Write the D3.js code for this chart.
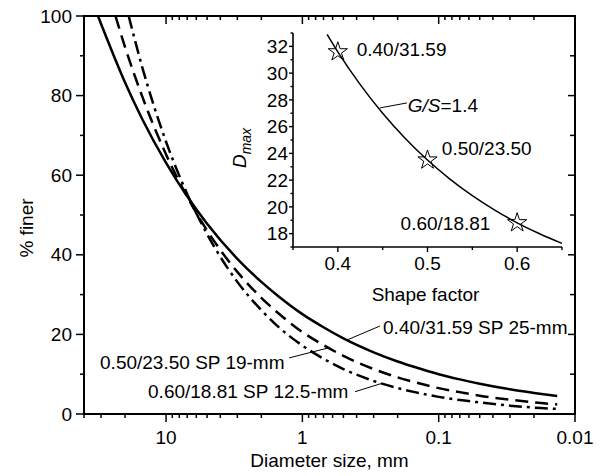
<!DOCTYPE html>
<html>
<head>
<meta charset="utf-8">
<script src="https://cdn.jsdelivr.net/npm/d3@7/dist/d3.min.js"></script>
<style>
  html, body { margin: 0; padding: 0; background: #fff; }
  svg { display: block; }
  text { font-family: "Liberation Sans", Arial, sans-serif; fill: #000; }
</style>
</head>
<body>
<svg id="chart" width="602" height="476"></svg>
<script>
// ---------------- DATA ----------------
// Main chart: diameter (mm) vs % finer
const diamSP25 = [31.59, 20, 15, 10, 7, 5, 3, 2, 1.5, 1, 0.7, 0.5, 0.3, 0.2, 0.15, 0.1, 0.07, 0.05, 0.03, 0.02, 0.0135];
const finerSP25 = [100, 83.3, 74.2, 63.1, 54.7, 47.8, 39.0, 33.2, 29.6, 25.1, 21.8, 19.0, 15.5, 13.2, 11.8, 10.0, 8.7, 7.6, 6.2, 5.3, 4.5];
const diamSP19 = [23.5, 20, 15, 10, 7, 5, 3, 2, 1.5, 1, 0.7, 0.5, 0.3, 0.2, 0.15, 0.1, 0.07, 0.05, 0.03, 0.02, 0.0135];
const finerSP19 = [100, 92.2, 79.9, 65.2, 54.6, 46.1, 35.7, 29.2, 25.3, 20.6, 17.3, 14.6, 11.3, 9.2, 8.0, 6.5, 5.5, 4.6, 3.6, 2.9, 2.4];
const diamSP125 = [18.81, 15, 10, 7, 5, 3, 2, 1.5, 1, 0.7, 0.5, 0.3, 0.2, 0.15, 0.1, 0.07, 0.05, 0.03, 0.02, 0.0135];
const finerSP125 = [100, 87.3, 68.4, 55.3, 45.2, 33.2, 26.1, 21.9, 17.2, 13.9, 11.3, 8.3, 6.5, 5.5, 4.3, 3.5, 2.9, 2.1, 1.6, 1.3];

const xMajorTicks = [10, 1, 0.1, 0.01];
const xMajorLabels = ["10", "1", "0.1", "0.01"];
const yMajorTicks = [0, 20, 40, 60, 80, 100];
const yMinorTicks = [10, 30, 50, 70, 90];

// Annotations for main chart (data coordinates)
const mainLabels = ["0.40/31.59 SP 25-mm", "0.50/23.50 SP 19-mm", "0.60/18.81 SP 12.5-mm"];
const mainLabelAnchor = [[0.256, 20.1], [30.5, 11.3], [13.56, 4.0]];
const mainLeaderFrom = [[0.270, 22.1], [1.25, 14.1], [0.411, 5.6]];
const mainLeaderTo = [[0.47, 18.6], [0.646, 16.6], [0.261, 7.7]];

// Inset: shape factor vs Dmax
const shapeCurve = [0.388, 0.40, 0.425, 0.45, 0.475, 0.50, 0.525, 0.55, 0.575, 0.60, 0.625, 0.65];
const dmaxCurve = [32.9, 31.59, 29.14, 27.0, 25.13, 23.5, 22.08, 20.84, 19.76, 18.81, 17.99, 17.27];
const shapePoints = [0.40, 0.50, 0.60];
const dmaxPoints = [31.59, 23.50, 18.81];
const pointLabels = ["0.40/31.59", "0.50/23.50", "0.60/18.81"];
const pointLabelAnchor = [[0.421, 31.28], [0.516, 23.88], [0.470, 18.27]];
const insetXTicks = [0.4, 0.5, 0.6];
const insetXMinor = [0.35, 0.45, 0.55, 0.65];
const insetYTicks = [18, 20, 22, 24, 26, 28, 30, 32];
const insetYMinor = [17, 19, 21, 23, 25, 27, 29, 31, 33];
const gsLabelAnchor = [0.478, 27.1];
const gsLeaderFrom = [0.477, 27.77];
const gsLeaderTo = [0.447, 27.4];

// ---------------- LAYOUT ----------------
const svg = d3.select("#chart");
const FS = 19;
const L = 84, R = 575, T = 16, B = 414;

const x = d3.scaleLog().domain([40, 0.01]).range([L, R]);
const y = d3.scaleLinear().domain([0, 100]).range([B, T]);

svg.append("rect").attr("width", 602).attr("height", 476).attr("fill", "#fff");

// minor x ticks
const xMinor = [];
[0.01, 0.1, 1, 10].forEach(dec => {
  for (let k = 2; k <= 9; k++) {
    const v = +(dec * k).toPrecision(3);
    if (v <= 40 && v >= 0.01) xMinor.push(v);
  }
});

const axG = svg.append("g").attr("stroke", "#000").attr("stroke-width", 1.5);
// bottom ticks outward
xMajorTicks.forEach(v => axG.append("line").attr("x1", x(v)).attr("x2", x(v)).attr("y1", B).attr("y2", B + 8));
xMinor.forEach(v => axG.append("line").attr("x1", x(v)).attr("x2", x(v)).attr("y1", B).attr("y2", B + 4));
// top ticks inward
xMajorTicks.forEach(v => axG.append("line").attr("x1", x(v)).attr("x2", x(v)).attr("y1", T).attr("y2", T + 8));
xMinor.filter(v => v < 10).forEach(v => axG.append("line").attr("x1", x(v)).attr("x2", x(v)).attr("y1", T).attr("y2", T + 4));
// left ticks outward
yMajorTicks.forEach(v => axG.append("line").attr("x1", L - 8).attr("x2", L).attr("y1", y(v)).attr("y2", y(v)));
yMinorTicks.forEach(v => axG.append("line").attr("x1", L - 4).attr("x2", L).attr("y1", y(v)).attr("y2", y(v)));
// right ticks inward
yMajorTicks.forEach(v => axG.append("line").attr("x1", R - 7).attr("x2", R).attr("y1", y(v)).attr("y2", y(v)));
yMinorTicks.forEach(v => axG.append("line").attr("x1", R - 5).attr("x2", R).attr("y1", y(v)).attr("y2", y(v)));

// frame
svg.append("rect").attr("x", L).attr("y", T).attr("width", R - L).attr("height", B - T)
  .attr("fill", "none").attr("stroke", "#000").attr("stroke-width", 2);

// tick labels
xMajorTicks.forEach((v, i) => svg.append("text").attr("x", x(v)).attr("y", B + 30)
  .attr("text-anchor", "middle").attr("font-size", FS).text(xMajorLabels[i]));
yMajorTicks.forEach(v => svg.append("text").attr("x", L - 12).attr("y", y(v)).attr("dy", "0.35em")
  .attr("text-anchor", "end").attr("font-size", FS).text(v));

// axis titles
svg.append("text").attr("x", (L + R) / 2).attr("y", 467).attr("text-anchor", "middle")
  .attr("font-size", FS).text("Diameter size, mm");
svg.append("text").attr("transform", `translate(33,228) rotate(-90)`).attr("text-anchor", "middle")
  .attr("font-size", FS).text("% finer");

// curves
const line = d3.line().x(d => x(d[0])).y(d => y(d[1])).curve(d3.curveMonotoneX);
const series = [
  {d: diamSP25, p: finerSP25, dash: null},
  {d: diamSP19, p: finerSP19, dash: "13,7"},
  {d: diamSP125, p: finerSP125, dash: "13,5,3,5"}
];
series.forEach(s => {
  const pts = s.d.map((v, i) => [v, s.p[i]]);
  svg.append("path").attr("d", line(pts)).attr("fill", "none").attr("stroke", "#000")
    .attr("stroke-width", 2.5).attr("stroke-dasharray", s.dash);
});

// main annotations
mainLabels.forEach((t, i) => {
  svg.append("line").attr("x1", x(mainLeaderFrom[i][0])).attr("y1", y(mainLeaderFrom[i][1]))
    .attr("x2", x(mainLeaderTo[i][0])).attr("y2", y(mainLeaderTo[i][1]))
    .attr("stroke", "#000").attr("stroke-width", 1);
  svg.append("text").attr("x", x(mainLabelAnchor[i][0])).attr("y", y(mainLabelAnchor[i][1]))
    .attr("font-size", FS).text(t);
});

// ---------------- INSET ----------------
const IL = 293, IR = 562, IT = 33, IB = 247;
const xi = d3.scaleLinear().domain([0.35, 0.65]).range([IL, IR]);
const yi = d3.scaleLinear().domain([17, 33]).range([IB, IT]);

const ig = svg.append("g");
ig.append("line").attr("x1", IL).attr("x2", IL).attr("y1", IT).attr("y2", IB).attr("stroke", "#000").attr("stroke-width", 1.6);
ig.append("line").attr("x1", IL).attr("x2", IR).attr("y1", IB).attr("y2", IB).attr("stroke", "#000").attr("stroke-width", 1.6);
insetXTicks.forEach(v => ig.append("line").attr("x1", xi(v)).attr("x2", xi(v)).attr("y1", IB).attr("y2", IB + 5).attr("stroke", "#000").attr("stroke-width", 1.4));
insetXMinor.forEach(v => ig.append("line").attr("x1", xi(v)).attr("x2", xi(v)).attr("y1", IB).attr("y2", IB + 3).attr("stroke", "#000").attr("stroke-width", 1.4));
insetYTicks.forEach(v => ig.append("line").attr("x1", IL - 4).attr("x2", IL).attr("y1", yi(v)).attr("y2", yi(v)).attr("stroke", "#000").attr("stroke-width", 1.4));
insetYMinor.forEach(v => ig.append("line").attr("x1", IL - 2.5).attr("x2", IL).attr("y1", yi(v)).attr("y2", yi(v)).attr("stroke", "#000").attr("stroke-width", 1.4));

insetXTicks.forEach(v => ig.append("text").attr("x", xi(v)).attr("y", IB + 23).attr("text-anchor", "middle")
  .attr("font-size", FS).text(v.toFixed(1)));
insetYTicks.forEach(v => ig.append("text").attr("x", IL - 5).attr("y", yi(v)).attr("dy", "0.35em")
  .attr("text-anchor", "end").attr("font-size", FS).text(v));

ig.append("text").attr("x", (IL + IR) / 2 - 2).attr("y", 301).attr("text-anchor", "middle")
  .attr("font-size", FS).text("Shape factor");

const dm = ig.append("text").attr("transform", `translate(246,148) rotate(-90)`).attr("text-anchor", "middle")
  .attr("font-size", FS);
dm.append("tspan").attr("font-style", "italic").text("D");
dm.append("tspan").attr("font-style", "italic").attr("font-size", 14).attr("dy", 5).text("max");

const iline = d3.line().x(d => xi(d[0])).y(d => yi(d[1])).curve(d3.curveMonotoneX);
ig.append("path").attr("d", iline(shapeCurve.map((v, i) => [v, dmaxCurve[i]])))
  .attr("fill", "none").attr("stroke", "#000").attr("stroke-width", 1.5);

const star = d3.symbol(d3.symbolStar).size(115);
shapePoints.forEach((v, i) => {
  ig.append("path").attr("d", star()).attr("transform", `translate(${xi(v)},${yi(dmaxPoints[i])})`)
    .attr("fill", "none").attr("stroke", "#000").attr("stroke-width", 1);
  ig.append("text").attr("x", xi(pointLabelAnchor[i][0])).attr("y", yi(pointLabelAnchor[i][1]))
    .attr("font-size", FS).text(pointLabels[i]);
});

ig.append("line").attr("x1", xi(gsLeaderFrom[0])).attr("y1", yi(gsLeaderFrom[1]))
  .attr("x2", xi(gsLeaderTo[0])).attr("y2", yi(gsLeaderTo[1])).attr("stroke", "#000").attr("stroke-width", 1);
const gs = ig.append("text").attr("x", xi(gsLabelAnchor[0])).attr("y", yi(gsLabelAnchor[1])).attr("font-size", FS);
gs.append("tspan").attr("font-style", "italic").text("G/S");
gs.append("tspan").text("=1.4");
</script>
</body>
</html>
